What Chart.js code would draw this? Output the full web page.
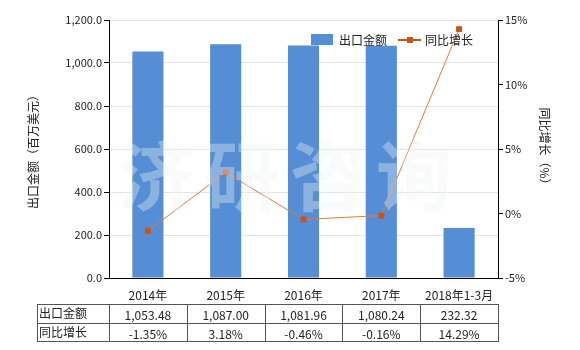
<!DOCTYPE html>
<html>
<head>
<meta charset="utf-8">
<script src="https://cdn.jsdelivr.net/npm/chart.js"></script>
<style>
  html, body { margin: 0; padding: 0; background: #fff; }
  #wrap { width: 580px; height: 350px; }
</style>
</head>
<body>
<div id="wrap"><canvas id="chart" width="580" height="350"></canvas></div>
<script>
    // Chart data
    const categories = ['2014年', '2015年', '2016年', '2017年', '2018年1-3月'];
    const exportValues = [1053.48, 1087.00, 1081.96, 1080.24, 232.32];
    const growthRates = [-1.35, 3.18, -0.46, -0.16, 14.29];
    const exportLabels = ['1,053.48', '1,087.00', '1,081.96', '1,080.24', '232.32'];
    const growthLabels = ['-1.35%', '3.18%', '-0.46%', '-0.16%', '14.29%'];

    const FONT = '"Microsoft YaHei", "Noto Sans CJK SC", sans-serif';
    const BAR_COLOR = '#558ed5';
    const LINE_COLOR = '#e07b39';
    const POINT_COLOR = '#cc5318';

    // Draws legend, axis titles, table and watermark
    const extras = {
        id: 'extras',
        afterDraw(chart) {
            const ctx = chart.ctx;
            const x = chart.scales.x;
            ctx.save();

            // Legend
            ctx.fillStyle = BAR_COLOR;
            ctx.fillRect(311, 34, 22, 11);
            ctx.fillStyle = '#222';
            ctx.font = '12px ' + FONT;
            ctx.textBaseline = 'middle';
            ctx.textAlign = 'left';
            ctx.fillText('出口金额', 339, 40);
            ctx.strokeStyle = POINT_COLOR;
            ctx.lineWidth = 2;
            ctx.beginPath();
            ctx.moveTo(398, 40);
            ctx.lineTo(421, 40);
            ctx.stroke();
            ctx.fillStyle = POINT_COLOR;
            ctx.fillRect(407, 37, 6, 6);
            ctx.fillStyle = '#222';
            ctx.fillText('同比增长', 425, 40);

            // Axis titles
            ctx.font = '12px ' + FONT;
            ctx.textAlign = 'center';
            ctx.save();
            ctx.translate(33, 149);
            ctx.rotate(-Math.PI / 2);
            ctx.fillText('出口金额（百万美元）', 0, 0);
            ctx.restore();
            ctx.save();
            ctx.translate(545, 149);
            ctx.rotate(Math.PI / 2);
            ctx.fillText('同比增长（%）', 0, 0);
            ctx.restore();

            // Data table
            const top = 304, mid = 323, bottom = 341, left = 37;
            const colW = (x.right - x.left) / categories.length;
            ctx.strokeStyle = '#555';
            ctx.lineWidth = 1;
            ctx.beginPath();
            [top, mid, bottom].forEach(yy => {
                ctx.moveTo(left, yy + 0.5);
                ctx.lineTo(x.right + 1, yy + 0.5);
            });
            ctx.moveTo(left + 0.5, top);
            ctx.lineTo(left + 0.5, bottom + 1);
            for (let i = 0; i <= categories.length; i++) {
                const xx = Math.round(x.left + i * colW) + 0.5;
                ctx.moveTo(xx, top);
                ctx.lineTo(xx, bottom + 1);
            }
            ctx.stroke();

            ctx.fillStyle = '#222';
            ctx.font = '12px ' + FONT;
            ctx.textAlign = 'left';
            ctx.fillText('出口金额', left + 2, (top + mid) / 2);
            ctx.fillText('同比增长', left + 2, (mid + bottom) / 2);
            ctx.textAlign = 'center';
            categories.forEach((c, i) => {
                const cx = x.getPixelForValue(i);
                ctx.fillText(exportLabels[i], cx, (top + mid) / 2 + 2);
                ctx.fillText(growthLabels[i], cx, (mid + bottom) / 2 + 2);
            });

            // Watermark
            ctx.fillStyle = 'rgba(238, 243, 241, 0.36)';
            ctx.font = 'bold 76px "Noto Sans CJK SC", sans-serif';
            ctx.textAlign = 'center';
            ctx.textBaseline = 'middle';
            ['济', '研', '咨', '询'].forEach((ch, i) => {
                ctx.fillText(ch, 156 + i * 86, 176);
            });

            ctx.restore();
        }
    };

    new Chart(document.getElementById('chart'), {
        data: {
            labels: categories,
            datasets: [{
                type: 'line',
                label: '同比增长',
                data: growthRates,
                yAxisID: 'y1',
                borderColor: LINE_COLOR,
                borderWidth: 1,
                pointStyle: 'rect',
                pointRadius: 3.5,
                pointBackgroundColor: POINT_COLOR,
                pointBorderColor: POINT_COLOR,
                tension: 0,
                order: 0
            }, {
                type: 'bar',
                label: '出口金额',
                data: exportValues,
                yAxisID: 'y',
                backgroundColor: BAR_COLOR,
                barPercentage: 0.4,
                categoryPercentage: 1,
                order: 1
            }]
        },
        options: {
            responsive: false,
            animation: false,
            layout: { padding: { top: 20, left: 0, right: 0, bottom: 0 } },
            plugins: {
                legend: { display: false },
                tooltip: { enabled: false }
            },
            scales: {
                x: {
                    afterFit: s => { s.height = 72; },
                    grid: { display: false },
                    border: { color: '#000' },
                    ticks: { color: '#222', font: { size: 12, family: FONT }, padding: 2, maxRotation: 0 }
                },
                y: {
                    position: 'left',
                    min: 0,
                    max: 1200,
                    afterFit: s => { s.width = 109; },
                    grid: { color: '#e4e4e4', tickColor: '#000', tickLength: 5 },
                    border: { color: '#000' },
                    ticks: {
                        stepSize: 200,
                        color: '#222',
                        font: { size: 11, family: FONT },
                        padding: 2,
                        callback: v => v.toLocaleString('en-US', { minimumFractionDigits: 1, maximumFractionDigits: 1 })
                    }
                },
                y1: {
                    position: 'right',
                    min: -5,
                    max: 15,
                    afterFit: s => { s.width = 82; },
                    grid: { drawOnChartArea: false, tickColor: '#000', tickLength: 5 },
                    border: { color: '#000' },
                    ticks: {
                        stepSize: 5,
                        color: '#222',
                        font: { size: 11, family: FONT },
                        padding: 2,
                        callback: v => v + '%'
                    }
                }
            }
        },
        plugins: [extras]
    });
</script>
</body>
</html>
